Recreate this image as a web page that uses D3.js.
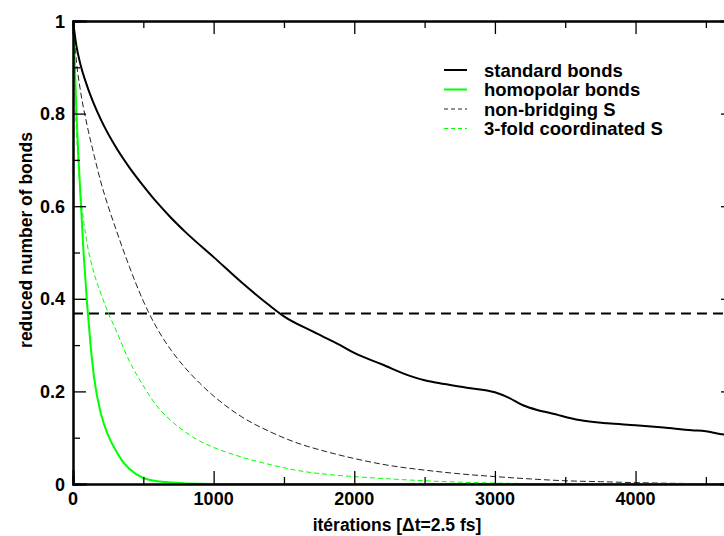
<!DOCTYPE html>
<html>
<head>
<meta charset="utf-8">
<script src="https://cdn.jsdelivr.net/npm/d3@7"></script>
<style>
  html, body { margin: 0; padding: 0; background: #fff; }
  svg { display: block; }
  text { font-family: "Liberation Sans", Arial, Helvetica, sans-serif; font-weight: bold; fill: #000; }
</style>
</head>
<body>
<svg id="chart" width="724" height="536"></svg>
<script>
// ---- data ----
const standardX = [0, 25, 50, 100, 150, 200, 300, 400, 500, 600, 700, 800, 1000, 1200, 1400, 1500, 1700, 1900, 2000, 2200, 2400, 2500, 2600, 2800, 3000, 3100, 3200, 3300, 3400, 3600, 3800, 4000, 4200, 4400, 4500, 4600, 4700];
const standardY = [1, 0.945, 0.91, 0.86, 0.82, 0.786, 0.73, 0.684, 0.644, 0.607, 0.574, 0.544, 0.49, 0.435, 0.385, 0.362, 0.33, 0.30, 0.283, 0.258, 0.233, 0.224, 0.218, 0.208, 0.198, 0.186, 0.17, 0.16, 0.153, 0.138, 0.131, 0.127, 0.122, 0.116, 0.114, 0.108, 0.104];

const homopolarX = [0, 10, 25, 50, 75, 100, 125, 150, 200, 250, 300, 350, 400, 500, 600, 700, 800, 1000, 2000, 3000, 4000, 4700];
const homopolarY = [1, 0.93, 0.8, 0.64, 0.5, 0.39, 0.3, 0.23, 0.15, 0.105, 0.075, 0.05, 0.033, 0.013, 0.006, 0.003, 0.001, 0, 0, 0, 0, 0];

const nonBridgingX = [0, 25, 50, 100, 150, 200, 250, 300, 400, 500, 600, 700, 800, 900, 1000, 1200, 1400, 1600, 1800, 2000, 2250, 2500, 2750, 3000, 3250, 3500, 3750, 4000, 4500, 4700];
const nonBridgingY = [1, 0.91, 0.855, 0.775, 0.71, 0.65, 0.6, 0.555, 0.47, 0.395, 0.335, 0.288, 0.25, 0.218, 0.19, 0.145, 0.113, 0.088, 0.07, 0.055, 0.04, 0.03, 0.022, 0.016, 0.011, 0.007, 0.005, 0.003, 0.001, 0.001];

const threeFoldX = [0, 10, 25, 50, 75, 100, 150, 200, 250, 300, 400, 500, 600, 700, 800, 900, 1000, 1200, 1400, 1600, 1800, 2000, 2250, 2500, 2750, 3000, 3250, 3500, 4700];
const threeFoldY = [1, 0.88, 0.76, 0.64, 0.57, 0.52, 0.455, 0.41, 0.37, 0.336, 0.266, 0.212, 0.167, 0.136, 0.112, 0.093, 0.079, 0.058, 0.042, 0.029, 0.021, 0.016, 0.011, 0.007, 0.004, 0.002, 0.001, 0, 0];

const referenceLevel = 0.368; // 1/e

const xMajorTicks = [0, 1000, 2000, 3000, 4000];
const xMinorTicks = [500, 1500, 2500, 3500, 4500];
const yMajorTicks = [0, 0.2, 0.4, 0.6, 0.8, 1];
const yMajorLabels = ["0", "0.2", "0.4", "0.6", "0.8", "1"];
const yMinorTicks = [0.1, 0.3, 0.5, 0.7, 0.9];

const legendLabels = ["standard bonds", "homopolar bonds", "non-bridging S", "3-fold coordinated S"];

const xTitle = "itérations [\u0394t=2.5 fs]";
const yTitle = "reduced number of bonds";

// ---- layout ----
const svg = d3.select("#chart");
const mLeft = 73, mRight = 734, mTop = 21, mBottom = 484;
const x = d3.scaleLinear().domain([0, 4700]).range([mLeft, mRight]);
const y = d3.scaleLinear().domain([0, 1]).range([mBottom, mTop]);

svg.append("defs").append("clipPath").attr("id", "plotclip")
  .append("rect").attr("x", mLeft).attr("y", mTop - 1).attr("width", mRight - mLeft).attr("height", mBottom - mTop + 2);

const zip = (xs, ys) => xs.map((v, i) => [v, ys[i]]);
const line = d3.line().x(d => x(d[0])).y(d => y(d[1])).curve(d3.curveMonotoneX);

const series = [
  { data: zip(standardX, standardY), color: "#000", width: 2, dash: null },
  { data: zip(homopolarX, homopolarY), color: "#00ff00", width: 2, dash: null },
  { data: zip(nonBridgingX, nonBridgingY), color: "#222", width: 1, dash: "6,3" },
  { data: zip(threeFoldX, threeFoldY), color: "#00ff00", width: 1, dash: "5,3" }
];

const plot = svg.append("g").attr("clip-path", "url(#plotclip)");

// reference 1/e line
plot.append("line")
  .attr("x1", x(0)).attr("x2", x(4700))
  .attr("y1", y(referenceLevel)).attr("y2", y(referenceLevel))
  .attr("stroke", "#000").attr("stroke-width", 2).attr("stroke-dasharray", "10,6");

[2, 3, 1, 0].forEach(i => {
  const s = series[i];
  plot.append("path").datum(s.data)
    .attr("d", line)
    .attr("fill", "none")
    .attr("stroke", s.color)
    .attr("stroke-width", s.width)
    .attr("stroke-dasharray", s.dash);
});

// ---- axes (ticks inward on all four sides) ----
const majorLen = 13, minorLen = 7;
const bottomAxis = d3.axisBottom(x).tickValues(xMajorTicks).tickSize(-majorLen).tickFormat("");
const bottomMinor = d3.axisBottom(x).tickValues(xMinorTicks).tickSize(-minorLen).tickFormat("");
const topAxis = d3.axisTop(x).tickValues(xMajorTicks).tickSize(-majorLen).tickFormat("");
const topMinor = d3.axisTop(x).tickValues(xMinorTicks).tickSize(-minorLen).tickFormat("");
const leftAxis = d3.axisLeft(y).tickValues(yMajorTicks).tickSize(-majorLen).tickFormat("");
const leftMinor = d3.axisLeft(y).tickValues(yMinorTicks).tickSize(-minorLen).tickFormat("");
const rightAxis = d3.axisRight(y).tickValues(yMajorTicks).tickSize(-majorLen).tickFormat("");
const rightMinor = d3.axisRight(y).tickValues(yMinorTicks).tickSize(-minorLen).tickFormat("");

function styleAxis(g) {
  g.selectAll("path.domain").attr("stroke", "#000").attr("stroke-width", 2).attr("stroke-linecap", "square");
  g.selectAll(".tick line").attr("stroke", "#000").attr("stroke-width", 1.3);
}
svg.append("g").attr("transform", `translate(0,${mBottom})`).call(bottomMinor).call(styleAxis);
svg.append("g").attr("transform", `translate(0,${mBottom})`).call(bottomAxis).call(styleAxis);
svg.append("g").attr("transform", `translate(0,${mTop})`).call(topMinor).call(styleAxis);
svg.append("g").attr("transform", `translate(0,${mTop})`).call(topAxis).call(styleAxis);
svg.append("g").attr("transform", `translate(${mLeft},0)`).call(leftMinor).call(styleAxis);
svg.append("g").attr("transform", `translate(${mLeft},0)`).call(leftAxis).call(styleAxis);
svg.append("g").attr("transform", `translate(${mRight},0)`).call(rightMinor).call(styleAxis);
svg.append("g").attr("transform", `translate(${mRight},0)`).call(rightAxis).call(styleAxis);

// tick labels
svg.append("g").selectAll("text").data(xMajorTicks).join("text")
  .attr("x", d => x(d)).attr("y", 505)
  .attr("text-anchor", "middle")
  .style("font-size", "18px")
  .text(d => d);

svg.append("g").selectAll("text").data(yMajorTicks).join("text")
  .attr("x", 65).attr("y", d => y(d) + 6.5)
  .attr("text-anchor", "end")
  .style("font-size", "18px")
  .text((d, i) => yMajorLabels[i]);

// axis titles
svg.append("text").attr("x", 397).attr("y", 531)
  .attr("text-anchor", "middle").style("font-size", "17.5px").text(xTitle);
svg.append("text").attr("transform", `translate(32,240) rotate(-90)`)
  .attr("text-anchor", "middle").style("font-size", "17.5px").text(yTitle);

// legend
const legendRowY = [70, 89.5, 109, 128.5];
const lg = svg.append("g");
series.forEach((s, i) => {
  lg.append("line")
    .attr("x1", 444).attr("x2", 467)
    .attr("y1", legendRowY[i]).attr("y2", legendRowY[i])
    .attr("stroke", s.color).attr("stroke-width", s.width)
    .attr("stroke-dasharray", s.dash ? "4,3" : null);
  lg.append("text")
    .attr("x", 484).attr("y", legendRowY[i] + 6.5)
    .style("font-size", "18.5px")
    .text(legendLabels[i]);
});
</script>
</body>
</html>
